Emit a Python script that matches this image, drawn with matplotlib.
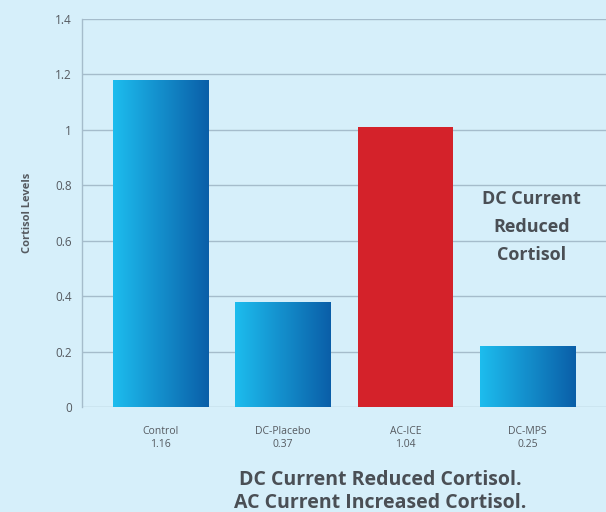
import numpy as np
import matplotlib.pyplot as plt
from matplotlib.colors import LinearSegmentedColormap

# data
groups = ["Control", "DC-Placebo", "AC-ICE", "DC-MPS"]
shown_values = ["1.16", "0.37", "1.04", "0.25"]
bar_heights = [1.18, 0.38, 1.01, 0.22]
is_red = [False, False, True, False]
y_ticks = [0, 0.2, 0.4, 0.6, 0.8, 1, 1.2, 1.4]

bg = "#d6effa"
txt = "#555a60"
plt.rcParams['font.family'] = ['Open Sans', 'DejaVu Sans']

fig = plt.figure(figsize=(6.06, 5.12), dpi=100, facecolor=bg)
ax = fig.add_axes([0.135, 0.205, 0.865, 0.758])
ax.set_facecolor(bg)

x = np.arange(len(groups))
bars = ax.bar(x, bar_heights, width=0.78, color="#d4222a", zorder=3)

blue = LinearSegmentedColormap.from_list("bl", ["#1dbdee", "#0a5ea8"])
grad = np.linspace(0, 1, 256).reshape(1, -1)
for b, red in zip(bars, is_red):
    if red:
        continue
    b.set_facecolor("none")
    x0, w, h = b.get_x(), b.get_width(), b.get_height()
    im = ax.imshow(grad, cmap=blue, aspect="auto", extent=[x0, x0 + w, 0, h], zorder=3)
    im.set_clip_path(b)

ax.set_xlim(-0.645, 3.64)
ax.set_ylim(0, 1.4)
ax.set_yticks(y_ticks)
ax.set_yticklabels([f"{t:g}" for t in y_ticks], fontsize=8.5, color=txt)
ax.set_xticks(x)
ax.set_xticklabels([f"{g}\n{v}" for g, v in zip(groups, shown_values)],
                   fontsize=7.5, color=txt, linespacing=1.2)
ax.tick_params(length=0, pad=7)
ax.tick_params(axis="x", pad=14)

ax.grid(axis="y", color="#a5bccb", linewidth=1, zorder=1)
for s in ["top", "right", "bottom"]:
    ax.spines[s].set_visible(False)
ax.spines["left"].set_color("#a5bccb")
ax.spines["left"].set_linewidth(1)

ax.set_ylabel("Cortisol Levels", fontsize=8, color=txt, fontweight="bold", labelpad=16)

ax.text(3.03, 0.65, "DC Current\nReduced\nCortisol", ha="center", va="center",
        fontsize=13, fontweight="bold", color="#4a4f55", linespacing=1.7, zorder=4)

fig.text(0.627, 0.04, "DC Current Reduced Cortisol.\nAC Current Increased Cortisol.",
         ha="center", va="center", fontsize=14, fontweight="bold", color="#4a4f55",
         linespacing=1.2)

fig.savefig("out.png", dpi=100, facecolor=bg)
